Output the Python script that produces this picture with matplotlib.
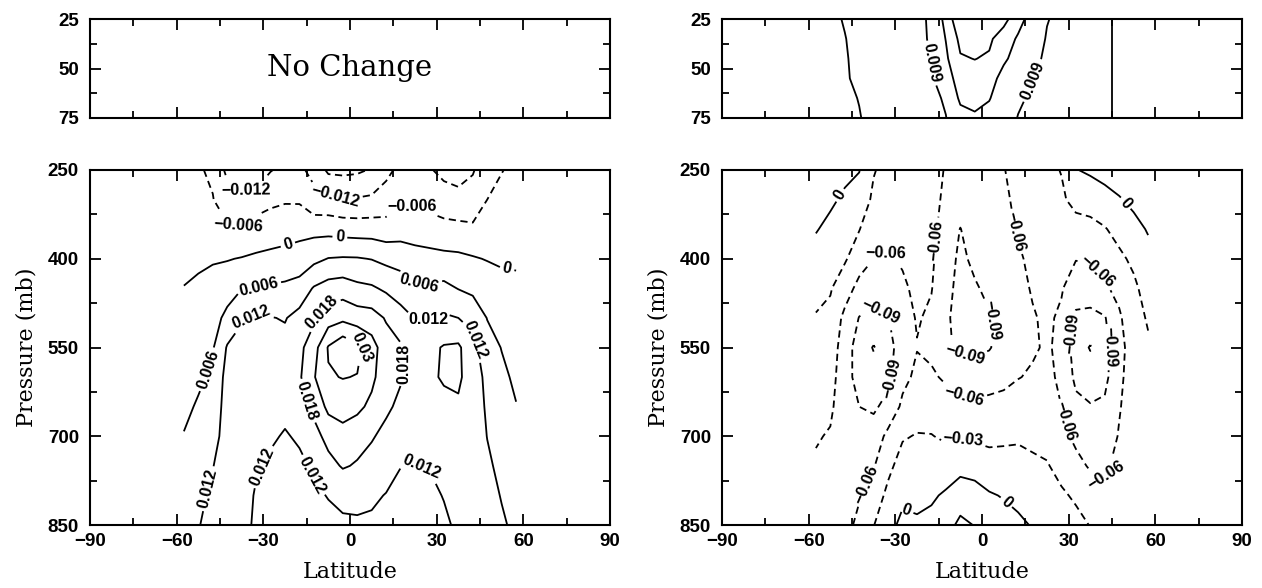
import numpy as np
import matplotlib
matplotlib.use("Agg")
import matplotlib.pyplot as plt
from matplotlib.ticker import MultipleLocator, FixedLocator

plt.rcParams['font.family'] = ['Liberation Sans', 'DejaVu Sans']
plt.rcParams['font.weight'] = 'bold'

# grid
lat = [-57.5, -52.5, -47.5, -42.5, -37.5, -32.5, -27.5, -22.5, -17.5, -12.5, -7.5, -2.5,
       2.5, 7.5, 12.5, 17.5, 22.5, 27.5, 32.5, 37.5, 42.5, 47.5, 52.5, 57.5]
p_main = [250, 300, 350, 400, 450, 500, 550, 600, 650, 700, 750, 800, 850]
p_top = [25, 35, 45, 55, 65, 75]

# left lower panel, one row per latitude (values at p_main)
left_main = [
    [-0.004, -0.003, -0.002, -0.001, 0.0001, 0.0015, 0.003, 0.004, 0.005, 0.0062, 0.0075, 0.0088, 0.0100],
    [-0.0055, -0.004, -0.0025, -0.001, 0.001, 0.0025, 0.004, 0.0052, 0.0065, 0.008, 0.0095, 0.011, 0.0118],
    [-0.0068, -0.0058, -0.0035, -0.0005, 0.002, 0.0038, 0.0055, 0.0068, 0.008, 0.0095, 0.0118, 0.0128, 0.0133],
    [-0.0135, -0.009, -0.0052, -0.0003, 0.0035, 0.0075, 0.0125, 0.0142, 0.0148, 0.0150, 0.0150, 0.0148, 0.0145],
    [-0.0145, -0.011, -0.0055, 0.0003, 0.0058, 0.0115, 0.0138, 0.0150, 0.0155, 0.0158, 0.0158, 0.0155, 0.0150],
    [-0.014, -0.0108, -0.002, 0.0005, 0.0062, 0.0125, 0.0145, 0.0152, 0.0152, 0.0148, 0.0128, 0.0112, 0.0105],
    [-0.0123, -0.0075, -0.0025, 0.0012, 0.0068, 0.0122, 0.0140, 0.0150, 0.0148, 0.0128, 0.0110, 0.0100, 0.0096],
    [-0.0105, -0.0066, -0.0025, 0.002, 0.0072, 0.0117, 0.0135, 0.0145, 0.0135, 0.0115, 0.0102, 0.0095, 0.0092],
    [-0.011, -0.0068, -0.0015, 0.0022, 0.0085, 0.0138, 0.0165, 0.0172, 0.0158, 0.0128, 0.0108, 0.0098, 0.0094],
    [-0.0135, -0.0105, -0.0018, 0.0045, 0.0125, 0.017, 0.0215, 0.0235, 0.0195, 0.016, 0.0128, 0.0112, 0.0102],
    [-0.0192, -0.0105, -0.002, 0.0062, 0.0145, 0.021, 0.0305, 0.0295, 0.0255, 0.0198, 0.0162, 0.0122, 0.0108],
    [-0.0195, -0.0115, -0.0025, 0.0065, 0.0152, 0.0225, 0.0345, 0.0302, 0.027, 0.0215, 0.0185, 0.0135, 0.0110],
    [-0.019, -0.0115, -0.0028, 0.0064, 0.0135, 0.021, 0.0315, 0.0298, 0.0255, 0.020, 0.0175, 0.013, 0.0115],
    [-0.0175, -0.011, -0.0028, 0.0058, 0.0128, 0.0205, 0.0265, 0.0255, 0.0225, 0.0185, 0.016, 0.0128, 0.0112],
    [-0.0135, -0.0095, -0.0035, 0.0045, 0.011, 0.0175, 0.0205, 0.020, 0.019, 0.0165, 0.014, 0.0118, 0.0108],
    [-0.0105, -0.0075, -0.0025, 0.0035, 0.0095, 0.014, 0.0188, 0.0185, 0.0168, 0.015, 0.0121, 0.0108, 0.0100],
    [-0.0095, -0.0068, -0.003, 0.0025, 0.0068, 0.0118, 0.0155, 0.016, 0.015, 0.0135, 0.0119, 0.0105, 0.0098],
    [-0.0115, -0.008, -0.0035, 0.002, 0.0068, 0.0118, 0.0165, 0.0172, 0.016, 0.014, 0.0122, 0.011, 0.0104],
    [-0.0135, -0.0095, -0.004, 0.0015, 0.0075, 0.0128, 0.0185, 0.0185, 0.0168, 0.015, 0.0135, 0.0122, 0.0112],
    [-0.014, -0.0105, -0.0042, 0.0012, 0.0058, 0.012, 0.019, 0.019, 0.0172, 0.0158, 0.0148, 0.0138, 0.0128],
    [-0.0125, -0.0095, -0.005, 0.0005, 0.0045, 0.0105, 0.0138, 0.015, 0.0152, 0.015, 0.0145, 0.014, 0.0135],
    [-0.0085, -0.006, -0.0035, -0.0003, 0.0035, 0.0058, 0.0085, 0.0105, 0.0112, 0.0119, 0.0128, 0.0133, 0.0135],
    [-0.0062, -0.0045, -0.0025, -0.0008, 0.0018, 0.004, 0.0058, 0.0072, 0.0085, 0.0098, 0.0108, 0.0118, 0.0125],
    [-0.0048, -0.0035, -0.0022, -0.0008, 0.0012, 0.0025, 0.0038, 0.005, 0.0062, 0.0075, 0.0088, 0.01, 0.0112],
]

# right lower panel
right_main = [
    [0.012, 0.007, 0.0015, -0.009, -0.021, -0.032, -0.040, -0.046, -0.052, -0.058, -0.063, -0.066, -0.068],
    [0.010, 0.004, -0.006, -0.017, -0.028, -0.036, -0.044, -0.050, -0.056, -0.062, -0.066, -0.069, -0.070],
    [0.006, -0.004, -0.015, -0.027, -0.045, -0.068, -0.075, -0.076, -0.074, -0.072, -0.070, -0.068, -0.064],
    [0.001, -0.011, -0.029, -0.045, -0.070, -0.091, -0.104, -0.103, -0.090, -0.080, -0.070, -0.061, -0.057],
    [-0.028, -0.036, -0.048, -0.060, -0.078, -0.096, -0.122, -0.108, -0.094, -0.078, -0.062, -0.048, -0.031],
    [-0.040, -0.046, -0.053, -0.062, -0.075, -0.091, -0.100, -0.097, -0.082, -0.052, -0.038, -0.022, -0.008],
    [-0.045, -0.049, -0.053, -0.058, -0.063, -0.072, -0.076, -0.068, -0.054, -0.033, -0.017, -0.005, 0.006],
    [-0.048, -0.050, -0.052, -0.054, -0.056, -0.058, -0.061, -0.054, -0.045, -0.028, -0.018, -0.007, 0.004],
    [-0.050, -0.052, -0.055, -0.057, -0.059, -0.064, -0.066, -0.056, -0.042, -0.029, -0.018, -0.004, 0.008],
    [-0.062, -0.065, -0.068, -0.072, -0.078, -0.084, -0.086, -0.064, -0.048, -0.034, -0.016, 0.004, 0.020],
    [-0.066, -0.072, -0.091, -0.098, -0.102, -0.104, -0.095, -0.073, -0.052, -0.032, -0.010, 0.017, 0.036],
    [-0.062, -0.066, -0.072, -0.082, -0.094, -0.100, -0.096, -0.076, -0.054, -0.035, -0.012, 0.012, 0.029],
    [-0.063, -0.066, -0.070, -0.075, -0.082, -0.093, -0.092, -0.072, -0.052, -0.036, -0.020, 0.003, 0.020],
    [-0.061, -0.064, -0.067, -0.070, -0.074, -0.078, -0.078, -0.068, -0.050, -0.035, -0.020, -0.002, 0.012],
    [-0.052, -0.055, -0.058, -0.063, -0.067, -0.070, -0.070, -0.061, -0.047, -0.033, -0.022, -0.008, 0.006],
    [-0.045, -0.048, -0.052, -0.055, -0.058, -0.062, -0.063, -0.057, -0.047, -0.036, -0.025, -0.013, -0.002],
    [-0.036, -0.040, -0.045, -0.049, -0.052, -0.056, -0.057, -0.054, -0.048, -0.039, -0.028, -0.020, -0.012],
    [-0.029, -0.034, -0.040, -0.050, -0.058, -0.064, -0.066, -0.065, -0.060, -0.052, -0.039, -0.026, -0.015],
    [-0.001, -0.022, -0.040, -0.059, -0.074, -0.096, -0.105, -0.097, -0.082, -0.066, -0.052, -0.034, -0.022],
    [0.004, -0.016, -0.040, -0.057, -0.075, -0.098, -0.122, -0.105, -0.088, -0.075, -0.063, -0.046, -0.031],
    [0.010, -0.010, -0.032, -0.050, -0.064, -0.092, -0.100, -0.098, -0.085, -0.075, -0.064, -0.055, -0.048],
    [0.014, -0.002, -0.020, -0.036, -0.052, -0.064, -0.070, -0.066, -0.062, -0.058, -0.053, -0.049, -0.046],
    [0.018, 0.006, -0.008, -0.024, -0.036, -0.042, -0.045, -0.046, -0.046, -0.045, -0.044, -0.043, -0.042],
    [0.020, 0.012, 0.002, -0.008, -0.018, -0.027, -0.034, -0.038, -0.040, -0.041, -0.041, -0.041, -0.040],
]

# right upper panel (values at p_top)
right_top = [
    [-0.003, -0.0032, -0.0035, -0.0038, -0.004, -0.0042],
    [-0.0013, -0.0017, -0.002, -0.0023, -0.0027, -0.003],
    [0.0004, -0.0002, -0.0005, -0.0007, -0.0012, -0.0016],
    [0.0022, 0.0018, 0.0015, 0.0013, 0.0002, -0.0003],
    [0.004, 0.0036, 0.0033, 0.003, 0.0022, 0.0018],
    [0.0055, 0.0052, 0.0048, 0.0045, 0.0038, 0.0034],
    [0.0068, 0.0064, 0.006, 0.0058, 0.005, 0.0046],
    [0.00655, 0.0072, 0.0072, 0.0068, 0.006, 0.0056],
    [0.0105, 0.0098, 0.0092, 0.008, 0.007, 0.0066],
    [0.0206, 0.0183, 0.0165, 0.0145, 0.010, 0.0088],
    [0.0351, 0.0292, 0.0262, 0.0215, 0.0195, 0.015],
    [0.036, 0.031, 0.0272, 0.0235, 0.0205, 0.0168],
    [0.035, 0.0285, 0.026, 0.0215, 0.0185, 0.015],
    [0.030, 0.0225, 0.0195, 0.015, 0.013, 0.0115],
    [0.0212, 0.0169, 0.0145, 0.0115, 0.0098, 0.0088],
    [0.0142, 0.0125, 0.0105, 0.0092, 0.0082, 0.0075],
    [0.0093, 0.0085, 0.008, 0.0075, 0.0068, 0.0063],
    [0.0075, 0.0068, 0.0064, 0.006, 0.0055, 0.0052],
    [0.0052, 0.005, 0.0048, 0.0045, 0.0042, 0.004],
    [0.003, 0.003, 0.0029, 0.0028, 0.0026, 0.0025],
    [0.0008, 0.0008, 0.0008, 0.0008, 0.0008, 0.0008],
    [-0.0008, -0.0008, -0.0008, -0.0008, -0.0008, -0.0008],
    [-0.002, -0.002, -0.002, -0.0022, -0.0022, -0.0022],
    [-0.003, -0.0032, -0.0033, -0.0035, -0.0035, -0.0035],
]

# labelled / unlabelled contour levels
levels_left = [-0.012, -0.006, 0.0, 0.006, 0.012, 0.018, 0.03]
plain_left = [-0.018, 0.024]
levels_right = [-0.09, -0.06, -0.03, 0.0]
plain_right = [-0.12, 0.03]
levels_top = [0.009]
plain_top = [0.0, 0.018, 0.027]

lab_left = [(-36, 284), (-5, 292), (-38.6, 343), (21.5, 312), (-21.5, 376), (-3.5, 363),
            (54.6, 411), (-31.7, 447), (24, 439), (-48.7, 588), (-34.5, 495), (27, 504),
            (44, 537), (-48, 790), (-31.4, 749), (-13.8, 768), (25.8, 743), (-10.5, 487),
            (19.2, 577), (-13.3, 639), (5.5, 548)]
lab_right = [(-50, 290), (50, 305), (-24.6, 805), (9.6, 805), (-33, 395), (-14.5, 370),
             (11, 355), (39, 425), (-6.4, 640), (31, 672), (-41, 780), (42, 765),
             (-34, 480), (4, 504), (-6.4, 580), (-34.4, 599), (31.3, 526), (44.6, 549),
             (-6.4, 703)]
lab_top = [(-16, 47), (19, 57)]

W, H = 1262, 588


def box(x0, y0, x1, y1):
    return [x0 / W, 1 - y1 / H, (x1 - x0) / W, (y1 - y0) / H]


def fmt(v):
    if abs(v) < 1e-9:
        return "0"
    s = f"{v:.3f}".rstrip('0').rstrip('.')
    return s.replace('-', '\u2212')


def style(ax, top):
    ax.set_xlim(-90, 90)
    ax.xaxis.set_major_locator(MultipleLocator(30))
    ax.xaxis.set_minor_locator(MultipleLocator(15))
    if top:
        ax.set_ylim(75, 25)
        ax.yaxis.set_major_locator(FixedLocator([25, 50, 75]))
        ax.yaxis.set_minor_locator(FixedLocator([37.5, 62.5]))
        ax.tick_params(labelbottom=False)
    else:
        ax.set_ylim(850, 250)
        ax.yaxis.set_major_locator(FixedLocator([250, 400, 550, 700, 850]))
        ax.yaxis.set_minor_locator(FixedLocator([325, 475, 625, 775]))
        ax.set_xlabel("Latitude", family="DejaVu Serif", fontweight="normal",
                      fontsize=16, labelpad=8)
        ax.set_ylabel("Pressure (mb)", family="DejaVu Serif", fontweight="normal",
                      fontsize=16, labelpad=7)
    ax.tick_params(which='both', direction='in', top=True, right=True, width=1.3,
                   labelsize=13.5)
    ax.tick_params(axis='x', pad=6)
    ax.tick_params(axis='y', pad=8)
    ax.tick_params(which='major', length=8)
    ax.tick_params(which='minor', length=5)
    for s in ax.spines.values():
        s.set_linewidth(1.5)


def linestyles(levels):
    return [(0, (4, 2.5)) if l < 0 else '-' for l in levels]


def draw(ax, pres, vals, levels, plain, labels):
    z = np.array(vals).T
    ax.contour(lat, pres, z, levels=plain, colors='k', linewidths=1.3,
               linestyles=linestyles(plain))
    cs = ax.contour(lat, pres, z, levels=levels, colors='k', linewidths=1.3,
                    linestyles=linestyles(levels))
    ax.clabel(cs, manual=labels, inline=True, inline_spacing=3, fontsize=11.5, fmt=fmt)
    return cs


fig = plt.figure(figsize=(12.62, 5.88), dpi=100)
ax_tl = fig.add_axes(box(90, 19, 610, 118))
ax_ml = fig.add_axes(box(90, 170, 610, 525))
ax_tr = fig.add_axes(box(722, 19, 1242, 118))
ax_mr = fig.add_axes(box(722, 170, 1242, 525))

for a, t in [(ax_tl, True), (ax_ml, False), (ax_tr, True), (ax_mr, False)]:
    style(a, t)

ax_tl.text(0, 50, "No Change", ha='center', va='center', family="DejaVu Serif",
           fontweight="normal", fontsize=21)

draw(ax_ml, p_main, left_main, levels_left, plain_left, lab_left)
draw(ax_mr, p_main, right_main, levels_right, plain_right, lab_right)
draw(ax_tr, p_top, right_top, levels_top, plain_top, lab_top)

fig.savefig("out.png", dpi=100)
